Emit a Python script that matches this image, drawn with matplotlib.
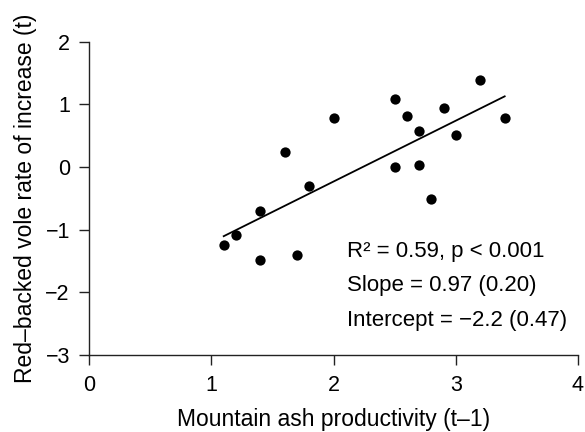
import numpy as np
import matplotlib
matplotlib.use("Agg")
import matplotlib.pyplot as plt

plt.rcParams['font.family'] = ['Liberation Sans', 'DejaVu Sans']
plt.rcParams['mathtext.default'] = 'regular'

# Продуктивність горобини (t-1) і темп приросту полівки (t)
ash_productivity = [1.1, 1.2, 1.4, 1.4, 1.6, 1.7, 1.8, 2.0, 2.5, 2.5,
                    2.6, 2.7, 2.7, 2.8, 2.9, 3.0, 3.2, 3.4]
vole_increase = [-1.25, -1.08, -0.70, -1.49, 0.24, -1.40, -0.31, 0.79, 1.09, 0.00,
                 0.81, 0.57, 0.03, -0.51, 0.95, 0.51, 1.39, 0.79]

fit_slope = 0.97
fit_intercept = -2.17
fit_range = [1.1, 3.4]

stats_lines = ["R\u00b2 = 0.59, p < 0.001",
               "Slope = 0.97 (0.20)",
               "Intercept = \u22122.2 (0.47)"]

x_ticks = [0, 1, 2, 3, 4]
y_ticks = [-3, -2, -1, 0, 1, 2]

fig = plt.figure(figsize=(5.85, 4.32), dpi=100)
ax = fig.add_axes([0.1527, 0.178, 0.8353, 0.7255])

ax.plot(ash_productivity, vole_increase, 'o', color='black', markersize=7.4,
        markeredgewidth=0, clip_on=False)

xf = np.array(fit_range)
ax.plot(xf, fit_intercept + fit_slope * xf, color='black', linewidth=1.3)

for i, line in enumerate(stats_lines):
    ax.text(2.107, -1.43 - 0.55 * i, line, fontsize=16, va='baseline', ha='left')

ax.set_xlim(0, 4)
ax.set_ylim(-3, 2)
ax.set_xticks(x_ticks)
ax.set_yticks(y_ticks)

for side in ['top', 'right']:
    ax.spines[side].set_visible(False)
for side in ['left', 'bottom']:
    ax.spines[side].set_linewidth(1.0)
    ax.spines[side].set_color('#222222')

ax.tick_params(direction='out', length=7, width=1.0, color='#222222',
               labelsize=15.5, pad=7)

ax.set_xlabel('Mountain ash productivity (t\u20131)', fontsize=16.5, labelpad=9)
ax.set_ylabel('Red\u2013backed vole rate of increase (t)', fontsize=16.5, labelpad=6)

fig.savefig('out.png', dpi=100)
